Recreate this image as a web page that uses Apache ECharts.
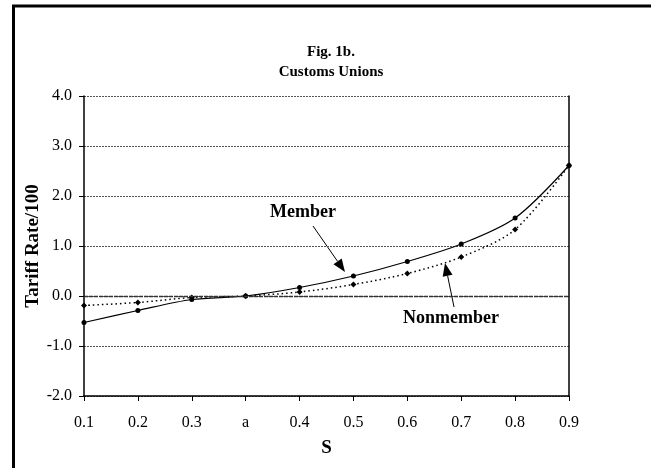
<!DOCTYPE html>
<html>
<head>
<meta charset="utf-8">
<script src="https://cdn.jsdelivr.net/npm/echarts@6/dist/echarts.min.js"></script>
<style>
  html, body { margin: 0; padding: 0; background: #fff; }
  #chart { width: 651px; height: 468px; }
</style>
</head>
<body>
<div id="chart"></div>
<script>
// categories on the S axis
var sLabels = ['0.1', '0.2', '0.3', 'a', '0.4', '0.5', '0.6', '0.7', '0.8', '0.9']
// tariff rate / 100
var member = [-0.53, -0.29, -0.07, 0, 0.17, 0.40, 0.69, 1.04, 1.56, 2.61]
var nonmember = [-0.19, -0.13, -0.03, 0, 0.08, 0.23, 0.45, 0.78, 1.33, 2.61]
var yTicks = { min: -2, max: 4, step: 1 }

var font = 'Liberation Serif'
var myChart = echarts.init(document.getElementById('chart'))

// arrow = line + filled head, pointing at (tx, ty)
function arrow (x1, y1, tx, ty) {
  var dx = tx - x1
  var dy = ty - y1
  var len = Math.sqrt(dx * dx + dy * dy)
  var ux = dx / len
  var uy = dy / len
  var hl = 13
  var hw = 5
  var bx = tx - ux * hl
  var by = ty - uy * hl
  return [
    { type: 'line', shape: { x1: x1, y1: y1, x2: bx, y2: by }, style: { stroke: '#000', lineWidth: 1 } },
    { type: 'polygon', shape: { points: [[tx, ty], [bx - uy * hw, by + ux * hw], [bx + uy * hw, by - ux * hw]] }, style: { fill: '#000' } }
  ]
}

var graphics = [
  { type: 'rect', shape: { x: 13.5, y: 6, width: 700, height: 500 }, style: { fill: 'none', stroke: '#000', lineWidth: 3 }, silent: true },
  { type: 'text', x: 331, y: 52, style: { text: 'Fig. 1b.', fontFamily: font, fontWeight: 'bold', fontSize: 15, fill: '#000', align: 'center', verticalAlign: 'middle' } },
  { type: 'text', x: 331, y: 72, style: { text: 'Customs Unions', fontFamily: font, fontWeight: 'bold', fontSize: 15, fill: '#000', align: 'center', verticalAlign: 'middle' } },
  { type: 'text', x: 303, y: 212, style: { text: 'Member', fontFamily: font, fontWeight: 'bold', fontSize: 18, fill: '#000', align: 'center', verticalAlign: 'middle' } },
  { type: 'text', x: 451, y: 318, style: { text: 'Nonmember', fontFamily: font, fontWeight: 'bold', fontSize: 18, fill: '#000', align: 'center', verticalAlign: 'middle' } }
].concat(arrow(313, 226, 345, 272)).concat(arrow(454, 307, 445, 263))

myChart.setOption({
  animation: false,
  backgroundColor: '#fff',
  grid: { left: 84, top: 96, width: 485, height: 300 },
  xAxis: {
    type: 'category',
    data: sLabels,
    boundaryGap: false,
    name: 'S',
    nameLocation: 'middle',
    nameGap: 43,
    nameTextStyle: { fontFamily: font, fontWeight: 'bold', fontSize: 19, color: '#000' },
    axisLine: { onZero: false, lineStyle: { color: '#000', width: 1.5 } },
    axisTick: { alignWithLabel: true, length: 5, lineStyle: { color: '#000' } },
    axisLabel: { fontFamily: font, fontSize: 16, color: '#000', margin: 19, interval: 0 },
    splitLine: { show: false }
  },
  yAxis: [{
    type: 'value',
    min: yTicks.min,
    max: yTicks.max,
    interval: yTicks.step,
    name: 'Tariff Rate/100',
    nameLocation: 'middle',
    nameRotate: 90,
    nameGap: 41,
    nameMoveOverlap: false,
    nameTextStyle: { fontFamily: font, fontWeight: 'bold', fontSize: 19, color: '#000' },
    axisLine: { show: true, lineStyle: { color: '#000', width: 1.5 } },
    axisTick: { show: true, length: 5, lineStyle: { color: '#000' } },
    axisLabel: { fontFamily: font, fontSize: 16, color: '#000', margin: 12, formatter: function (v) { return v.toFixed(1) } },
    splitLine: { show: true, lineStyle: { color: '#555', type: [2, 1], width: 1 } }
  }, {
    type: 'value',
    position: 'right',
    min: yTicks.min,
    max: yTicks.max,
    interval: yTicks.step,
    axisLine: { show: true, lineStyle: { color: '#000', width: 1.5 } },
    axisTick: { show: false },
    axisLabel: { show: false },
    splitLine: { show: false }
  }],
  series: [
    {
      name: 'Member',
      type: 'line',
      data: member,
      smooth: 0.3,
      symbol: 'circle',
      symbolSize: 5,
      lineStyle: { color: '#000', width: 1.2 },
      itemStyle: { color: '#000' },
      markLine: {
        silent: true,
        symbol: 'none',
        label: { show: false },
        lineStyle: { color: '#333', type: [4, 1], width: 1.3 },
        data: [{ yAxis: 0 }]
      },
      z: 3
    },
    {
      name: 'Nonmember',
      type: 'line',
      data: nonmember,
      smooth: 0.3,
      symbol: 'diamond',
      symbolSize: 6,
      lineStyle: { color: '#000', width: 1.5, type: [1.5, 3] },
      itemStyle: { color: '#000' },
      z: 3
    }
  ],
  graphic: graphics
})
</script>
</body>
</html>
